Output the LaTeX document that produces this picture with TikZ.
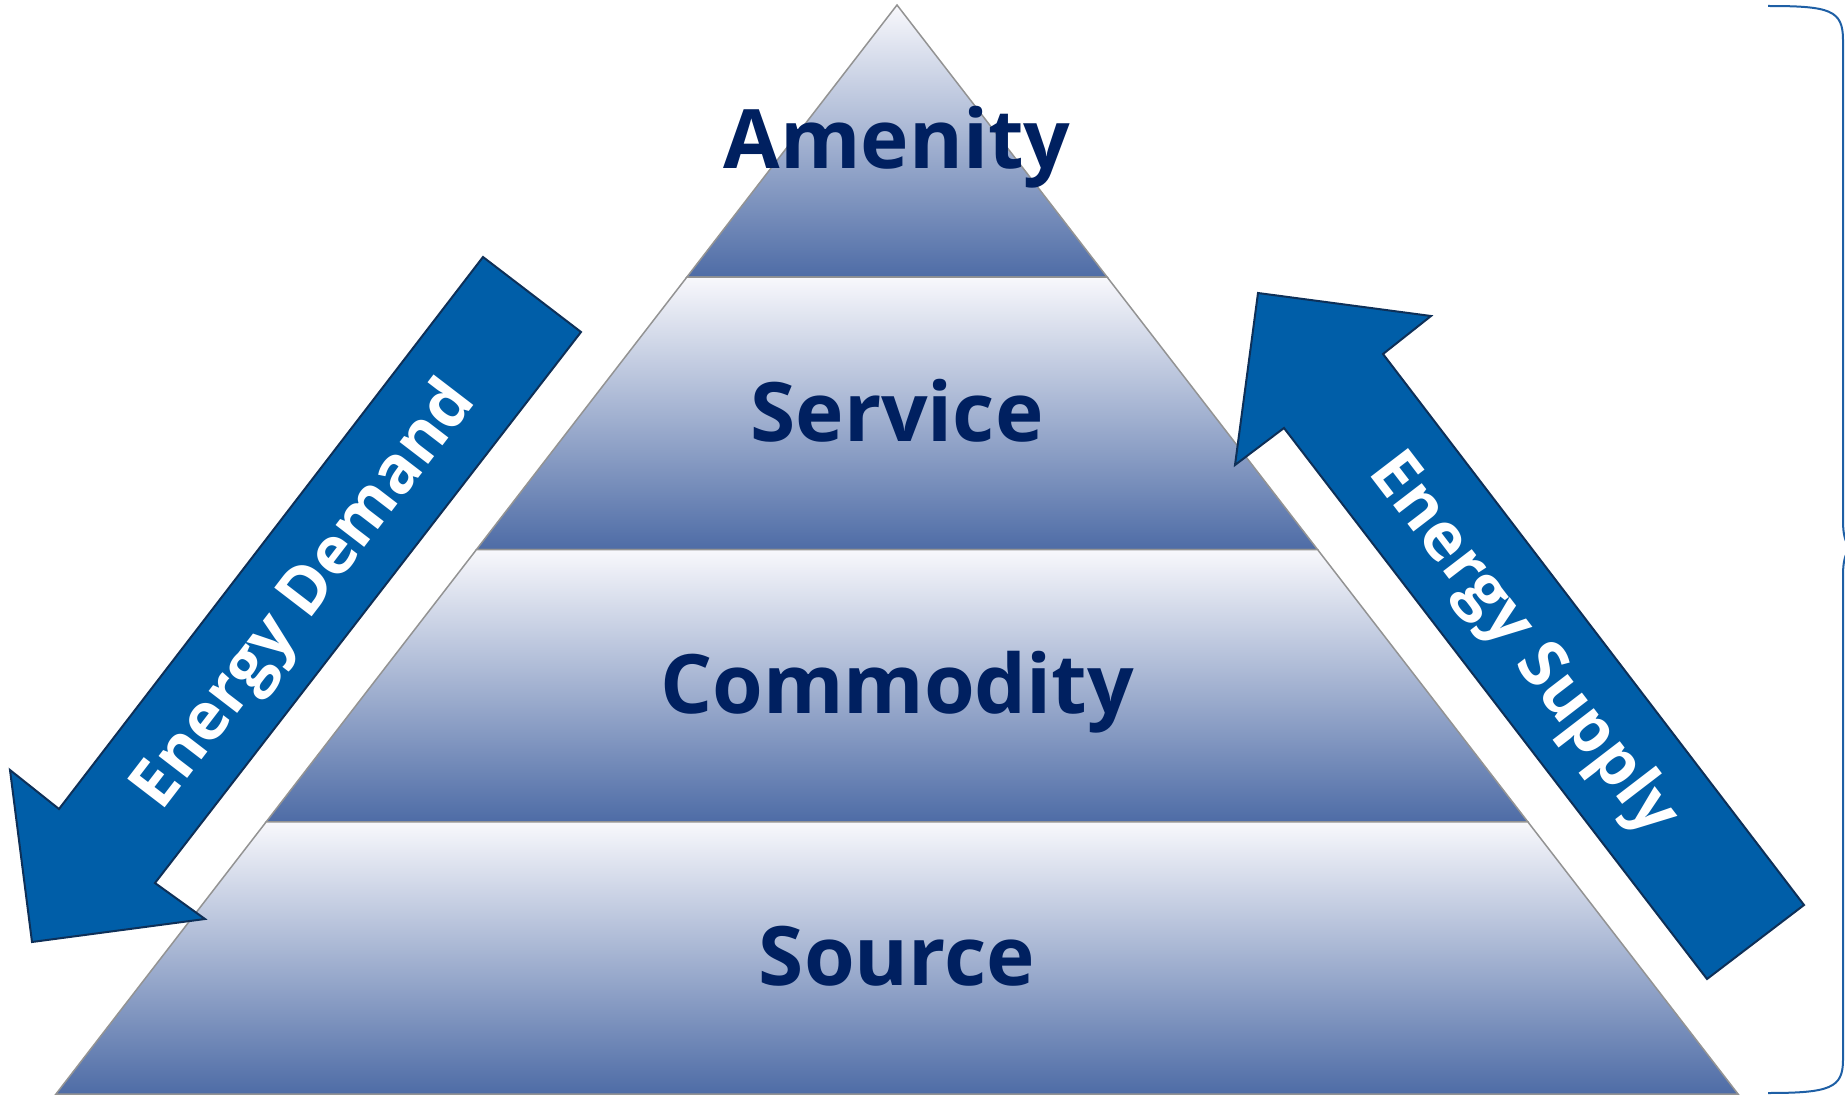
\documentclass[tikz,border=0pt]{standalone}
\usepackage{fontspec}
\setmainfont{Open Sans}
\usepackage{tikz}
\usetikzlibrary{calc, positioning}
\definecolor{LevelNavy}{RGB}{0,32,96}
\definecolor{ArrowBlue}{RGB}{0,94,168}
\definecolor{ArrowEdge}{RGB}{14,48,88}
\definecolor{BandTop}{RGB}{248,248,252}
\definecolor{BandBottom}{RGB}{78,108,166}
\definecolor{BraceBlue}{RGB}{30,95,165}

\tikzset{
  band/.style={top color=BandTop, bottom color=BandBottom, draw=gray!85, line width=1.5pt},
  levellabel/.style={text=LevelNavy, font=\fontsize{82}{90}\selectfont\bfseries, inner sep=0pt, anchor=base},
  flowarrow/.style={fill=ArrowBlue, draw=ArrowEdge, line width=2pt, line join=miter},
  flowlabel/.style={text=white, font=\fontsize{66}{72}\selectfont\bfseries, inner sep=0pt},
  bracket/.style={draw=BraceBlue, line width=2pt}
}

\begin{document}
\begin{tikzpicture}[x=1pt, y=-1pt]
\useasboundingbox (0,0) rectangle (1845,1099);
\coordinate (apex) at (897,5);
\coordinate (bl) at (56,1094);
\coordinate (br) at (1738,1094);
% pyramid bands
\shade[band] (apex) -- ($(apex)!.25!(br)$) -- ($(apex)!.25!(bl)$) -- cycle;
\shade[band] ($(apex)!.25!(bl)$) -- ($(apex)!.25!(br)$) -- ($(apex)!.5!(br)$) -- ($(apex)!.5!(bl)$) -- cycle;
\shade[band] ($(apex)!.5!(bl)$) -- ($(apex)!.5!(br)$) -- ($(apex)!.75!(br)$) -- ($(apex)!.75!(bl)$) -- cycle;
\shade[band] ($(apex)!.75!(bl)$) -- ($(apex)!.75!(br)$) -- (br) -- (bl) -- cycle;
\node[levellabel] at (897,169) (amenity) {Amenity};
\node[levellabel] at (897,441) (service) {Service};
\node[levellabel] at (897,713) (commodity) {Commodity};
\node[levellabel] at (897,985) (source) {Source};
% demand and supply arrows
\draw[flowarrow] (483,257) -- (581,332) -- (155,883) -- (205,919) -- (32,942) -- (10,770) -- (59,809) -- cycle;
\node[flowlabel, rotate=52.5] at (306,596) (demand) {Energy Demand};
\draw[flowarrow] (1258,293) -- (1431,316) -- (1383,354) -- (1804,905) -- (1707,979) -- (1284,428) -- (1235,465) -- cycle;
\node[flowlabel, rotate=-52.5] at (1522,645) (supply) {Energy Supply};
% brace
\draw[bracket] (1768,6) .. controls (1830,6) and (1843,10) .. (1843,40) -- (1843,520)
  .. controls (1843,540) and (1847,546) .. (1853,548) .. controls (1847,550) and (1843,556) .. (1843,576)
  -- (1843,1060) .. controls (1843,1088) and (1830,1093) .. (1768,1093);
\end{tikzpicture}
\end{document}
